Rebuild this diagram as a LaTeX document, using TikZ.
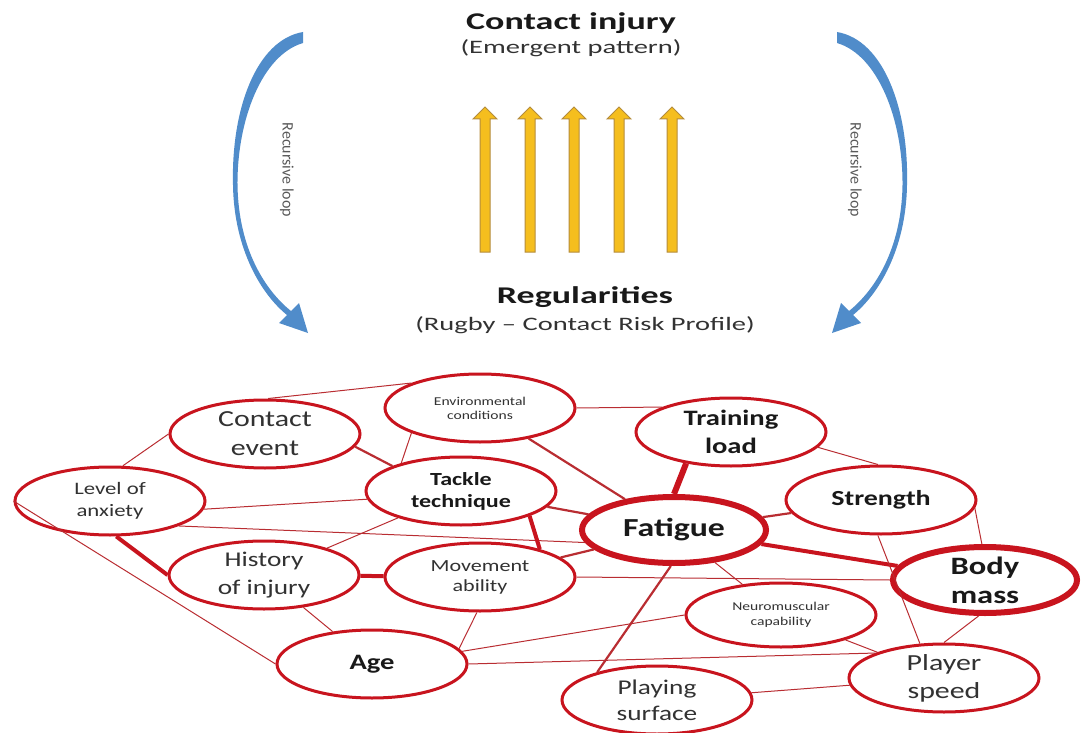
\documentclass[tikz,border=0pt]{standalone}
\usepackage{fontspec}
\setmainfont{Carlito}[FakeStretch=1.3]
\newfontfamily\titlefont{Carlito}[FakeStretch=1.5]
\newfontfamily\loopfont{Carlito}
\usetikzlibrary{shapes.geometric,positioning}

\definecolor{nodered}{RGB}{200,20,30}
\definecolor{linkred}{RGB}{185,45,50}
\definecolor{loopblue}{RGB}{80,140,202}
\definecolor{riserfill}{RGB}{245,190,30}
\definecolor{riserdraw}{RGB}{180,140,60}
\definecolor{txtgray}{RGB}{50,50,50}
\newcommand{\fsz}[2]{\fontsize{#1}{#2}\selectfont}

\tikzset{
  factor/.style={ellipse, draw=nodered, line width=3pt, fill=white,
    minimum width=190pt, minimum height=68pt, inner sep=-8pt,
    align=center, text=txtgray},
  keyfactor/.style={factor, line width=6pt, minimum width=184pt, minimum height=66pt},
  headline/.style={inner sep=0pt, text=black!90},
  thinlink/.style={draw=linkred, line width=1pt},
  midlink/.style={draw=linkred, line width=2.2pt},
  thicklink/.style={draw=nodered, line width=4pt},
  heavylink/.style={draw=nodered, line width=6pt},
  riser/.style={fill=riserfill, draw=riserdraw, line width=1pt},
  loopband/.style={fill=loopblue, draw=none}
}

\begin{document}
\begin{tikzpicture}[x=1pt, y=-1pt]
  \useasboundingbox (0,0) rectangle (1082,733);

  % emergent pattern and regularities
  \node[headline, anchor=base, font=\titlefont\fsz{24}{28}\bfseries] (injury) at (571,30) {Contact injury};
  \node[headline, below=5pt of injury, font=\titlefont\fsz{19}{23}, text=txtgray] (emergent) {(Emergent pattern)};
  \node[headline, anchor=base, font=\titlefont\fsz{24}{28}\bfseries] (regular) at (585,303) {Regularities};
  \node[headline, below=9pt of regular, font=\titlefont\fsz{19}{23}, text=txtgray] (profile) {(Rugby – Contact Risk Profile)};

  \foreach \x in {485,530,574,619,672}
    \draw[riser] (\x-5,252) -- (\x-5,119) -- (\x-12,119) -- (\x,107) -- (\x+12,119) -- (\x+5,119) -- (\x+5,252) -- cycle;

  % recursive loops, left one and its mirror
  \foreach \sx/\dx in {1/0,-1/1140}
    \fill[loopband, shift={(\dx,0)}, xscale=\sx] (303,32) .. controls (256,40) and (231,110) .. (233,185)
      .. controls (234,250) and (262,295) .. (287,315) -- (279,323) -- (308,333) -- (299,303) -- (291,311)
      .. controls (266,291) and (238.5,250) .. (237.5,185) .. controls (237,120) and (262,55) .. (303,43) -- cycle;
  \node[rotate=-90, font=\loopfont\fsz{16}{19}, text=black!65] (loopL) at (287,170) {Recursive loop};
  \node[rotate=-90, font=\loopfont\fsz{16}{19}, text=black!65] (loopR) at (855,170) {Recursive loop};

  % risk factors
  \node[factor, font=\fsz{23}{29}] (ctev) at (265,434) {Contact\\event};
  \node[factor, font=\fsz{12}{14}] (env) at (480,408) {Environmental\\conditions};
  \node[factor, font=\fsz{22}{28}\bfseries, text=black!90] (train) at (731,432) {Training\\load};
  \node[factor, font=\fsz{17.5}{22}] (anx) at (110,501) {Level of\\anxiety};
  \node[factor, font=\fsz{18.5}{22}\bfseries, text=black!90] (tack) at (461,491) {Tackle\\technique};
  \node[keyfactor, font=\fsz{26}{30}\bfseries, text=black!90] (fat) at (674,530) {Fatigue};
  \node[factor, font=\fsz{21.5}{26}\bfseries, text=black!90] (str) at (881,500) {Strength};
  \node[factor, font=\fsz{21}{28}] (hist) at (264,575) {History\\of injury};
  \node[factor, font=\fsz{17}{20}] (move) at (480,577) {Movement\\ability};
  \node[keyfactor, font=\fsz{25}{29}\bfseries, text=black!90] (body) at (985,580) {Body\\mass};
  \node[factor, font=\fsz{12}{15}, minimum height=64pt] (neuro) at (781,615) {Neuromuscular\\capability};
  \node[factor, font=\fsz{22}{26}\bfseries, text=black!90] (age) at (372,664) {Age};
  \node[factor, font=\fsz{21}{26}] (surf) at (657,700) {Playing\\surface};
  \node[factor, font=\fsz{23}{28}] (speed) at (944,678) {Player\\speed};

  % links
  \draw[thinlink] (anx.70) -- (ctev.west);
  \draw[thinlink] (ctev.85) -- (env.160);
  \draw[midlink] (ctev.-8) -- (tack.160);
  \draw[thinlink] (env.-160) -- (tack.155);
  \draw[thinlink] (anx.-5) -- (tack.185);
  \draw[thinlink] (anx.-20) -- (fat.188);
  \draw[thicklink] (anx.-80) -- (hist.west);
  \draw[thinlink] (anx.west) -- (age.west);
  \draw[thinlink] (tack) -- (hist);
  \draw[thicklink] (hist) -- (move);
  \draw[thicklink] (tack.-20) -- (move.25);
  \draw[thinlink] (hist) -- (age);
  \draw[thinlink] (move.-95) -- (age.10);
  \draw[thinlink] (age.8) -- (neuro.west);
  \draw[thinlink] (age.east) -- (speed.160);
  \draw[thinlink] (env.east) -- (train.160);
  \draw[midlink] (env) -- (fat);
  \draw[midlink] (tack) -- (fat);
  \draw[heavylink] (train.-145) -- (fat.90);
  \draw[thinlink] (train.-10) -- (str.95);
  \draw[midlink] (fat) -- (str);
  \draw[thicklink] (fat) -- (body);
  \draw[midlink] (move) -- (fat);
  \draw[thinlink] (move.east) -- (body.west);
  \draw[thinlink] (fat) -- (neuro);
  \draw[midlink] (fat.-95) -- (surf.155);
  \draw[thinlink] (str.-95) -- (speed.125);
  \draw[thinlink] (str.-5) -- (body.95);
  \draw[thinlink] (body.-100) -- (speed.north);
  \draw[thinlink] (neuro) -- (speed);
  \draw[thinlink] (surf) -- (speed);
\end{tikzpicture}
\end{document}
